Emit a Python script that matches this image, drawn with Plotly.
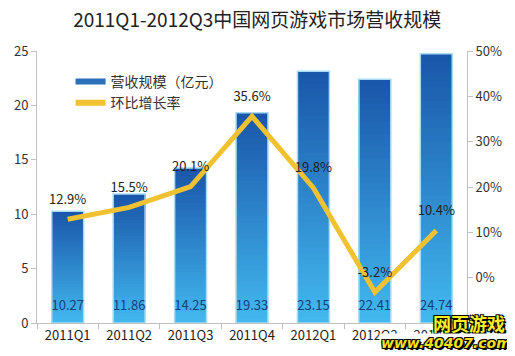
import plotly.graph_objects as go

categories = ["2011Q1", "2011Q2", "2011Q3", "2011Q4", "2012Q1", "2012Q2", "2012Q3"]
revenue = [10.27, 11.86, 14.25, 19.33, 23.15, 22.41, 24.74]
growth = [12.9, 15.5, 20.1, 35.6, 19.8, -3.2, 10.4]
left_ticks = [0, 5, 10, 15, 20, 25]
right_ticks = [0, 10, 20, 30, 40, 50]
right_tick_labels = ["0%", "10%", "20%", "30%", "40%", "50%"]

FONT = "Noto Sans CJK SC, Noto Sans, sans-serif"
N = 40
top_rgb = (26, 86, 170)
bot_rgb = (66, 184, 238)

fig = go.Figure()

# gradient bars: overlapping slices, each from its start to the bar top,
# light at bottom, dark at top (later slices drawn on top -> no seams)
for i in range(N):
    t = i / (N - 1)
    c = tuple(round(bot_rgb[k] + (top_rgb[k] - bot_rgb[k]) * t) for k in range(3))
    fig.add_trace(go.Bar(
        x=categories,
        y=[v * (N - i) / N for v in revenue],
        base=[v * i / N for v in revenue],
        marker=dict(color="rgb(%d,%d,%d)" % c, line=dict(width=0)),
        width=0.52, showlegend=False, hoverinfo="skip",
    ))
# outline
fig.add_trace(go.Bar(
    x=categories, y=revenue, width=0.52,
    marker=dict(color="rgba(0,0,0,0)", line=dict(color="#a8dcf4", width=1.5)),
    showlegend=False, hoverinfo="skip",
))
# value labels inside bottom of bars
fig.add_trace(go.Scatter(
    x=categories, y=[1.45] * len(categories), mode="text",
    text=["%.2f" % v for v in revenue],
    textfont=dict(family=FONT, size=13, color="#17407a"),
    showlegend=False, hoverinfo="skip",
))
# growth line
fig.add_trace(go.Scatter(
    x=categories, y=growth, yaxis="y2", mode="lines+markers+text",
    line=dict(color="#f0c232", width=5),
    marker=dict(size=18, color="rgba(0,0,0,0)"),
    text=["%.1f%%" % g for g in growth], textposition="top center",
    textfont=dict(family=FONT, size=13, color="#222222"),
    showlegend=False, hoverinfo="skip",
))
# legend entries
fig.add_trace(go.Scatter(x=[None], y=[None], mode="lines", name="营收规模（亿元）",
                         line=dict(color="#2a6fb8", width=6)))
fig.add_trace(go.Scatter(x=[None], y=[None], mode="lines", name="环比增长率",
                         line=dict(color="#f0c232", width=6)))

fig.update_layout(
    width=515, height=356,
    margin=dict(l=29, r=56, t=43, b=41),
    paper_bgcolor="white", plot_bgcolor="white",
    barmode="overlay",
    font=dict(family=FONT, size=13, color="#333333"),
    title=dict(text="2011Q1-2012Q3中国网页游戏市场营收规模", x=0.484, xanchor="center",
               y=0.985, yanchor="top",
               font=dict(family=FONT, size=19, color="#222222")),
    legend=dict(x=0.078, y=0.945, xanchor="left", yanchor="top",
                bgcolor="rgba(0,0,0,0)", font=dict(family=FONT, size=14, color="#333333"),
                itemwidth=30, tracegroupgap=0),
    xaxis=dict(type="category", showgrid=False, showline=True, linecolor="#c0c0c0",
               ticks="outside", ticklen=5, tickcolor="#c0c0c0", tickson="boundaries",
               tickfont=dict(family=FONT, size=13, color="#222222"),
               range=[-0.5, 6.5], automargin=False),
    yaxis=dict(range=[0, 25], tickvals=left_ticks, showgrid=False, showline=True,
               linecolor="#c0c0c0", ticks="outside", ticklen=5, tickcolor="#c0c0c0",
               tickfont=dict(family=FONT, size=13, color="#333333"), zeroline=False,
               automargin=False),
    yaxis2=dict(range=[-10, 50], overlaying="y", side="right", tickvals=right_ticks,
                ticktext=right_tick_labels, showgrid=False, showline=True,
                linecolor="#c0c0c0", ticks="outside", ticklen=5, tickcolor="#c0c0c0",
                tickfont=dict(family=FONT, size=13, color="#333333"), zeroline=False,
                automargin=False),
)

outline = "1px 1px 0 #000, -1px -1px 0 #000, 1px -1px 0 #000, -1px 1px 0 #000, 2px 2px 0 #000"
fig.add_annotation(xref="paper", yref="paper", x=1.005, y=0.0, xanchor="center", yanchor="middle",
                   text="<b>网页游戏</b>", showarrow=False,
                   font=dict(family=FONT, size=18, color="#f8f020", shadow=outline))
fig.add_annotation(xref="paper", yref="paper", x=0.952, y=-0.072, xanchor="center", yanchor="middle",
                   text="<b><i>www.40407.com</i></b>", showarrow=False, bgcolor="white",
                   font=dict(family="DejaVu Sans, sans-serif", size=14, color="#f0e020", shadow=outline))

fig.write_html("out.html")
